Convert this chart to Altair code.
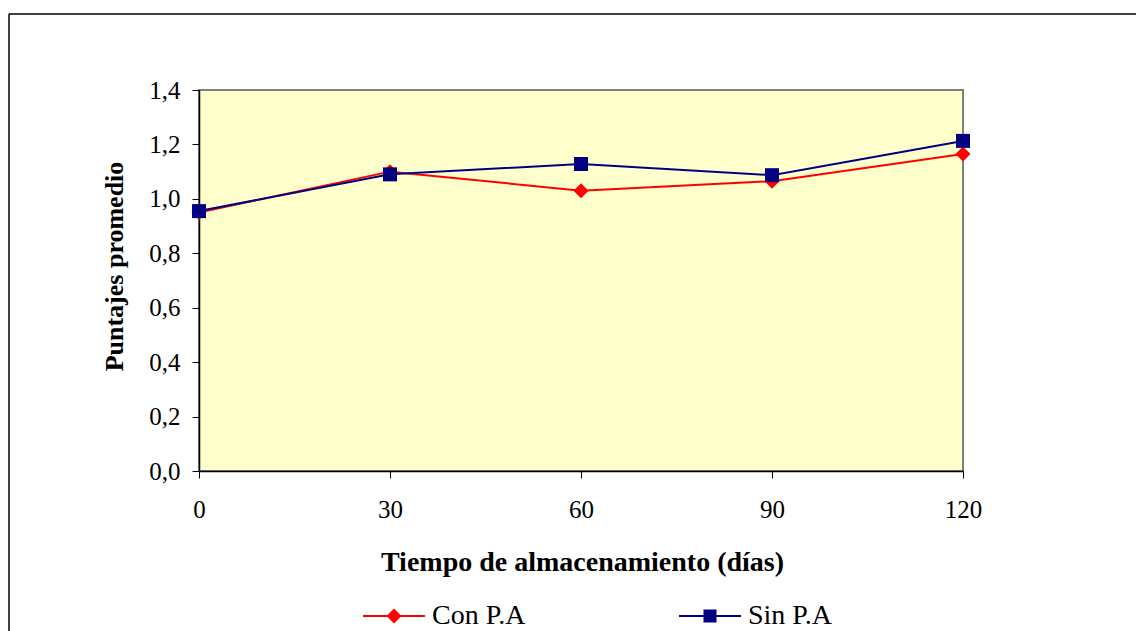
import altair as alt
import pandas as pd

# Storage time (days) and mean scores for each treatment
dias = [0, 30, 60, 90, 120]
con_pa = [0.95, 1.10, 1.03, 1.065, 1.165]
sin_pa = [0.955, 1.09, 1.128, 1.087, 1.213]

series = ["Con P.A", "Sin P.A"]
colores = ["#FF0000", "#000080"]
marcadores = ["diamond", "square"]
tamanos = [225, 196]
y_ticks = [0, 0.2, 0.4, 0.6, 0.8, 1.0, 1.2, 1.4]
x_ticks = [0, 30, 60, 90, 120]

# Legend glyphs (filled): a thin bar for the line with the series marker in the middle
simbolos_leyenda = [
    "M-1,-0.033L1,-0.033L1,0.033L-1,0.033Z M0,-0.24L0.24,0L0,0.24L-0.24,0Z",
    "M-1,-0.033L1,-0.033L1,0.033L-1,0.033Z M-0.21,-0.21L0.21,-0.21L0.21,0.21L-0.21,0.21Z",
]
leyenda_x = [164, 480]

df = pd.DataFrame({
    "dia": dias + dias,
    "valor": con_pa + sin_pa,
    "serie": [series[0]] * len(dias) + [series[1]] * len(dias),
})

FUENTE = "Liberation Serif"
W, H = 764, 381
PAD = {"left": 199, "top": 90, "right": 1136 - 199 - W, "bottom": 631 - 90 - H}

x_enc = alt.X(
    "dia:Q",
    scale=alt.Scale(domain=[0, 120], nice=False, zero=False),
    axis=alt.Axis(
        values=x_ticks,
        format="d",
        labelFlush=False,
        title="Tiempo de almacenamiento (días)",
        titleX=383,
        titleY=99,
        titleAlign="center",
        titleBaseline="alphabetic",
        titleFontSize=28,
        labelPadding=19,
    ),
)
y_enc = alt.Y(
    "valor:Q",
    scale=alt.Scale(domain=[0, 1.4], nice=False),
    axis=alt.Axis(
        values=y_ticks,
        labelFlush=False,
        labelExpr="replace(format(datum.value, '.1f'), '.', ',')",
        title="Puntajes promedio",
        titleX=-77,
        titleY=176,
        titleAngle=270,
        titleAlign="center",
        titleBaseline="alphabetic",
        titleFontSize=26,
        labelPadding=12,
    ),
)
color_enc = alt.Color("serie:N", scale=alt.Scale(domain=series, range=colores), legend=None)

base = alt.Chart(df)

lineas = base.mark_line(strokeWidth=2).encode(x=x_enc, y=y_enc, color=color_enc, detail="serie:N")

puntos = base.mark_point(filled=True, opacity=1).encode(
    x=x_enc,
    y=y_enc,
    color=color_enc,
    shape=alt.Shape("serie:N", scale=alt.Scale(domain=series, range=marcadores), legend=None),
    size=alt.Size("serie:N", scale=alt.Scale(domain=series, range=tamanos), legend=None),
)


# One single-entry legend per series; these layers keep no rows, only their scales
vacio = base.transform_filter("datum.dia < 0")


def capa_leyenda(i):
    leyenda = alt.Legend(
        title=None,
        orient="none",
        direction="horizontal",
        legendX=leyenda_x[i],
        legendY=495,
        symbolType=simbolos_leyenda[i],
        symbolSize=3844,
        symbolStrokeWidth=0,
        symbolFillColor=colores[i],
        symbolOpacity=1,
        labelFont=FUENTE,
        labelFontSize=28,
        labelColor="black",
        labelOffset=7,
        padding=0,
    )
    return vacio.mark_point(filled=True, color=colores[i]).encode(
        x=x_enc,
        y=y_enc,
        opacity=alt.Opacity("serie:N", scale=alt.Scale(domain=[series[i]], range=[1]), legend=leyenda),
    )


# Outer chart frame (top and left edges)
uno = alt.Data(values=[{}])
marco_sup = alt.Chart(uno).mark_rule(color="black", strokeWidth=1.5).encode(
    x=alt.value(-190), x2=alt.value(960), y=alt.value(-76)
)
marco_izq = alt.Chart(uno).mark_rule(color="black", strokeWidth=1.5).encode(
    x=alt.value(-190), y=alt.value(-76), y2=alt.value(560)
)

chart = (
    alt.layer(marco_sup, marco_izq, lineas, puntos, capa_leyenda(0), capa_leyenda(1))
    .resolve_scale(opacity="independent")
    .resolve_legend(opacity="independent")
    .properties(
        width=W,
        height=H,
        padding=PAD,
        autosize=alt.AutoSizeParams(type="none"),
        background="white",
    )
    .configure_view(fill="#FFFFCC", stroke="#808080", strokeWidth=2)
    .configure_axis(
        labelFont=FUENTE,
        labelFontSize=25,
        labelColor="black",
        titleFont=FUENTE,
        titleFontWeight="bold",
        titleColor="black",
        domainColor="black",
        domainWidth=1.5,
        tickColor="black",
        tickSize=7,
        tickWidth=1,
        grid=False,
    )
)

chart.save("out.html", embed_options={"renderer": "svg", "actions": False})
